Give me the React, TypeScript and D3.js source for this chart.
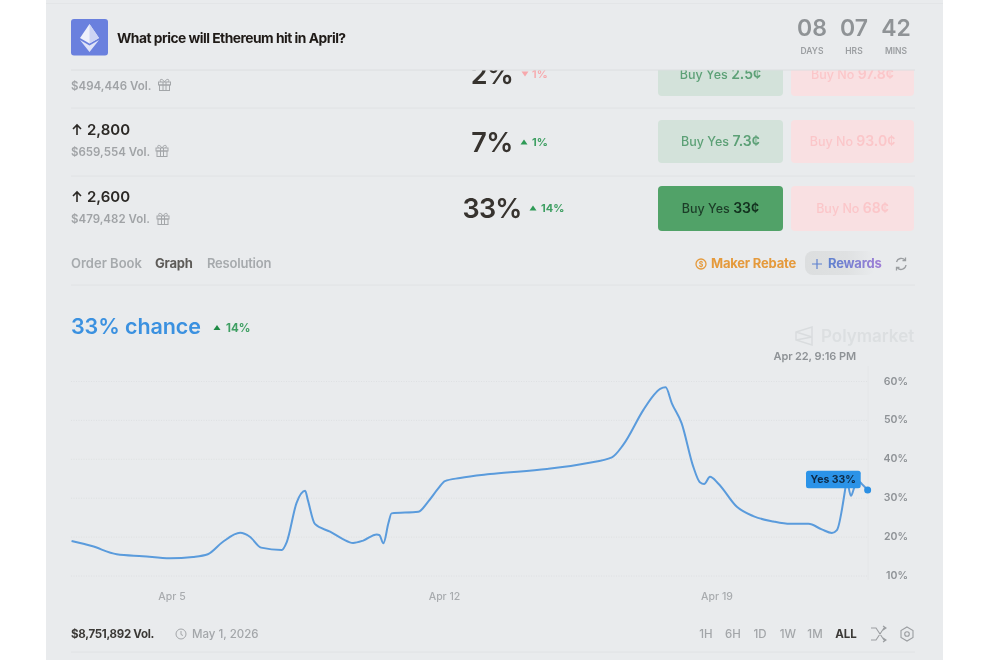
import React from "react";
import * as d3 from "d3";

// Chart data: day of April, % chance
const days = [2.42,2.94,3.58,4.25,4.95,5.54,5.92,6.31,6.75,7.0,7.29,7.82,7.95,8.2,8.42,8.49,8.67,9.06,9.39,9.65,9.91,10.26,10.33,10.43,10.56,10.64,11.33,11.58,11.84,12.01,12.4,13.17,14.63,15.65,16.3,16.59,17.11,17.36,17.54,17.68,17.84,18.09,18.39,18.56,18.67,18.82,19.03,19.51,19.93,20.45,20.88,21.35,21.69,21.95,22.08,22.29,22.33,22.44,22.52,22.59,22.72,22.87];
const chance = [19.0,17.7,15.6,15.1,14.55,14.9,15.6,18.8,21.1,20.1,17.3,16.7,18.8,28.8,31.9,29.5,23.4,21.4,19.5,18.5,19.1,20.7,20.5,18.4,23.6,26.1,26.5,29.1,32.5,34.4,35.2,36.2,37.5,39,40.5,43.7,52.7,56.3,58.1,58.5,54.4,49.3,38.1,34.1,33.65,35.5,33.8,27.8,25.4,24,23.4,23.4,22,21.06,21.8,32.1,34.7,30.6,32.6,34.7,33.65,32.1];
const yTicks = [10,20,30,40,50,60];
const xTickDays = [5,12,19];
const xTickLabels = ["Apr 5","Apr 12","Apr 19"];
const timeframes = ["1H","6H","1D","1W","1M","ALL"];
const timeframeX = [706,733,760,788,815,846];
const FONT = "Inter, 'Noto Sans', sans-serif";

const x = d3.scaleLinear().domain([5,19]).range([172,717]);
const y = d3.scaleLinear().domain([10,60]).range([576,381.5]);
const path = d3.line<number>().x((_,i)=>x(days[i])).y(d=>y(d)).curve(d3.curveMonotoneX)(chance) as string;

const Gift = ({cx,cy,c="#a3a6a9"}:{cx:number;cy:number;c?:string}) => (
  <g transform={`translate(${cx},${cy})`} fill="none" stroke={c} strokeWidth={1}>
    <rect x={-6} y={-3} width={12} height={3} />
    <rect x={-5} y={0} width={10} height={5.5} />
    <path d="M-1.5,-3V5.5M1.5,-3V5.5M0,-3C-2,-7 -6,-6 -3.5,-3M0,-3C2,-7 6,-6 3.5,-3" />
  </g>
);
const Arrow = ({xx,yy}:{xx:number;yy:number}) => (
  <path transform={`translate(${xx},${yy})`} d="M0,5V-5M-4,-1L0,-5L4,-1" fill="none" stroke="#2b2825" strokeWidth={1.6} />
);
const Tri = ({xx,yy,c,down=false}:{xx:number;yy:number;c:string;down?:boolean}) => (
  <path transform={`translate(${xx},${yy})`} d={down?"M-3.5,-2.5H3.5L0,2.5Z":"M-3.5,2.5H3.5L0,-2.5Z"} fill={c} />
);
const Btn = ({x0,w,y0,h,fill,label,price,color,color2,fs=12.5}:{x0:number;w:number;y0:number;h:number;fill:string;label:string;price:string;color:string;color2:string;fs?:number}) => (
  <g>
    <rect x={x0} y={y0} width={w} height={h} rx={4} fill={fill} />
    <text x={x0+w/2} y={y0+h/2+4.5} textAnchor="middle" fontSize={fs} fontWeight={500} fill={color}>
      {label} <tspan fill={color2} fontSize={fs+1.5} fontWeight={600}>{price}</tspan>
    </text>
  </g>
);

export default function App() {
  return (
    <svg width={990} height={660} viewBox="0 0 990 660" fontFamily={FONT}
      style={{position:"fixed",left:0,top:0,filter:"blur(0.45px)"}}>
      <defs>
        <clipPath id="rows"><rect x={46} y={70} width={897} height={590} /></clipPath>
        <linearGradient id="pill" x1="0" x2="1" y1="0" y2="0">
          <stop offset="0" stopColor="#dcdedf" /><stop offset="0.6" stopColor="#dfe1e2" /><stop offset="1" stopColor="#e9ebed" />
        </linearGradient>
        <linearGradient id="rew" gradientUnits="userSpaceOnUse" x1={828} x2={881} y1={0} y2={0}>
          <stop offset="0" stopColor="#5f82cf" /><stop offset="1" stopColor="#a07fd6" />
        </linearGradient>
      </defs>
      <rect width={990} height={660} fill="#fff" />
      <rect x={46} y={0} width={897} height={660} fill="#e9ebed" />
      <line x1={46} x2={943} y1={3.5} y2={3.5} stroke="#e3e5e7" />

      {/* rows, clipped under the header */}
      <g clipPath="url(#rows)">
        <text x={492} y={84} textAnchor="middle" fontSize={27} fontWeight={600} letterSpacing={-0.6} fill="#37332f">2%</text>
        <Tri xx={525} yy={74} c="#f7a8ac" down />
        <text x={532} y={78} fontSize={11} fontWeight={600} fill="#f7a8ac">1%</text>
        <Btn x0={658} w={125} y0={53} h={43} fill="#d3e2da" label="Buy Yes" price="2.5¢" color="#5ca076" color2="#5ca076" />
        <Btn x0={791} w={123} y0={53} h={43} fill="#f9e0e2" label="Buy No" price="97.8¢" color="#fbc6c9" color2="#fbc6c9" />
        <text x={71} y={89.5} fontSize={11.5} fontWeight={600} fill="#a0a3a6">$494,446 Vol.</text>
        <Gift cx={164.5} cy={85} />
      </g>

      {/* header */}
      <rect x={71} y={19} width={37} height={36.5} rx={3} fill="#6a80de" />
      <path d="M89.5,24L99,38L89.5,43.5L80,38Z" fill="#eef0fb" />
      <path d="M89.5,24L99,38L89.5,43.5Z" fill="#cdd4f4" />
      <path d="M80,40L89.5,45.5L99,40L89.5,52Z" fill="#dfe3f8" />
      <text x={117} y={43} fontSize={13.8} fontWeight={700} letterSpacing={-0.5} fill="#1f1a17">What price will Ethereum hit in April?</text>
      {[["08","DAYS",812],["07","HRS",854],["42","MINS",896]].map(([a,b,cx])=>(
        <g key={b as string}>
          <text x={cx as number} y={35.5} textAnchor="middle" fontSize={23} fontWeight={600} fill="#8f9396">{a}</text>
          <text x={cx as number} y={54} textAnchor="middle" fontSize={8.5} fontWeight={600} fill="#9b9ea1">{b}</text>
        </g>
      ))}
      <line x1={71} x2={915} y1={70} y2={70} stroke="#dcdee0" />
      <line x1={71} x2={915} y1={108} y2={108} stroke="#e0e2e4" />
      <line x1={71} x2={915} y1={176} y2={176} stroke="#e0e2e4" />
      <line x1={71} x2={915} y1={285} y2={285} stroke="#e0e2e4" />

      {/* row 2 */}
      <Arrow xx={77} yy={130} />
      <text x={87} y={135} fontSize={15} fontWeight={600} fill="#2b2825">2,800</text>
      <text x={71} y={155.5} fontSize={11.5} fontWeight={600} fill="#a0a3a6">$659,554 Vol.</text>
      <Gift cx={162} cy={151} />
      <text x={492} y={151.5} textAnchor="middle" fontSize={27} fontWeight={600} letterSpacing={-0.6} fill="#37332f">7%</text>
      <Tri xx={524} yy={142} c="#2e9a56" />
      <text x={532} y={146} fontSize={11} fontWeight={700} fill="#3f9f63">1%</text>
      <Btn x0={658} w={125} y0={120} h={43} fill="#d3e2da" label="Buy Yes" price="7.3¢" color="#5ca076" color2="#5ca076" />
      <Btn x0={791} w={123} y0={120} h={43} fill="#f9e0e2" label="Buy No" price="93.0¢" color="#fbc6c9" color2="#fbc6c9" />

      {/* row 3 */}
      <Arrow xx={77} yy={197} />
      <text x={87} y={202} fontSize={15} fontWeight={600} fill="#2b2825">2,600</text>
      <text x={71} y={222.5} fontSize={11.5} fontWeight={600} fill="#a0a3a6">$479,482 Vol.</text>
      <Gift cx={163} cy={219} />
      <text x={492} y={217.5} textAnchor="middle" fontSize={27} fontWeight={600} letterSpacing={-0.9} fill="#37332f">33%</text>
      <Tri xx={533} yy={208} c="#2e9a56" />
      <text x={541} y={212} fontSize={11} fontWeight={700} fill="#3f9f63">14%</text>
      <Btn x0={658} w={125} y0={186} h={45} fill="#51a268" label="Buy Yes" price="33¢" color="#1c3d28" color2="#12301e" />
      <Btn x0={791} w={123} y0={186} h={45} fill="#f9e0e2" label="Buy No" price="68¢" color="#fbc6c9" color2="#fbc6c9" />

      {/* tabs */}
      <text x={71} y={268} fontSize={13} fontWeight={600} fill="#a6aaad">Order Book</text>
      <text x={155} y={268} fontSize={13} fontWeight={700} letterSpacing={-0.2} fill="#5d5b58">Graph</text>
      <text x={207} y={268} fontSize={13} fontWeight={600} letterSpacing={-0.2} fill="#a6aaad">Resolution</text>
      <circle cx={701} cy={264} r={5} fill="none" stroke="#e59a3c" strokeWidth={1.3} />
      <text x={701} y={267} textAnchor="middle" fontSize={7} fontWeight={700} fill="#e59a3c">$</text>
      <text x={711} y={268} fontSize={13} fontWeight={700} letterSpacing={-0.2} fill="#e59a3c">Maker Rebate</text>
      <rect x={805} y={251} width={70} height={24} rx={8} fill="url(#pill)" />
      <path d="M817,259V269M812,264H822" stroke="#5f82cf" strokeWidth={1.2} />
      <text x={828} y={268} fontSize={13} fontWeight={700} letterSpacing={-0.2} fill="url(#rew)">Rewards</text>
      <g fill="none" stroke="#9b9ea1" strokeWidth={1.3}>
        <path d="M896.5,262A5,5 0 0 1 905,260M906,265A5,5 0 0 1 897.5,268" />
        <path d="M905.5,257.5V260.5H902.5M896.5,270.5V267.5H899.5" />
      </g>

      {/* chance */}
      <text x={71} y={334} fontSize={21.5} fontWeight={600} letterSpacing={-0.1} fill="#3b91e0">33% chance</text>
      <Tri xx={217} yy={327.5} c="#1f8a45" />
      <text x={226} y={332} fontSize={11.5} fontWeight={700} fill="#3f9f63">14%</text>

      {/* watermark */}
      <g fill="none" stroke="#d9dcde" strokeWidth={1.5}>
        <path d="M812,327V345L796,340V332Z M796,332L812,337L796,340" />
      </g>
      <text x={821} y={342} fontSize={17} fontWeight={600} fill="#dcdfe1">Polymarket</text>
      <text x={856} y={360} textAnchor="end" fontSize={11} fontWeight={600} letterSpacing={-0.1} fill="#8e9296">Apr 22, 9:16 PM</text>

      {/* grid + axes */}
      {yTicks.map(t=>(
        <g key={t}>
          <line x1={71} x2={868} y1={y(t)} y2={y(t)} stroke="#dadcde" strokeDasharray="1 1.5" strokeOpacity={0.75} />
          <text x={908} y={y(t)+3} textAnchor="end" fontSize={10.5} fontWeight={600} fill="#8e9296">{t}%</text>
        </g>
      ))}
      <line x1={868} x2={868} y1={366} y2={580} stroke="#e4e6e8" />
      {xTickDays.map((d,i)=>(
        <text key={d} x={x(d)} y={600} textAnchor="middle" fontSize={10.5} fontWeight={500} fill="#a8abae">{xTickLabels[i]}</text>
      ))}

      {/* series */}
      <path d={path} fill="none" stroke="#5a9bdc" strokeWidth={2} strokeLinejoin="round" />
      <circle cx={x(days[days.length-1])} cy={y(chance[chance.length-1])} r={3.5} fill="#2b8fe3" />
      <rect x={806} y={470.7} width={54.7} height={17.6} rx={2.5} fill="#2b93e8" />
      <text x={833.3} y={483.3} textAnchor="middle" fontSize={10.5} fontWeight={700} fill="#0e2a45">Yes 33%</text>

      {/* footer */}
      <text x={71} y={638} fontSize={11.5} fontWeight={700} letterSpacing={-0.3} fill="#3b3936">$8,751,892 Vol.</text>
      <circle cx={181} cy={634} r={5} fill="none" stroke="#a3a6a9" />
      <path d="M181,631V634.5L183,635.5" fill="none" stroke="#a3a6a9" />
      <text x={192} y={638} fontSize={11.5} fontWeight={500} fill="#a3a6a9">May 1, 2026</text>
      {timeframes.map((t,i)=>(
        <text key={t} x={timeframeX[i]} y={638} textAnchor="middle" fontSize={11.5} fontWeight={t==="ALL"?700:500} fill={t==="ALL"?"#3b3936":"#a3a6a9"}>{t}</text>
      ))}
      <g fill="none" stroke="#9b9ea1" strokeWidth={1.1}>
        <path d="M871,628L876,628L884,640H886M871,640H876L884,628H886M883,626L886,628L883,630M883,638L886,640L883,642" />
        <path d="M907,627L913,630.5V637.5L907,641L901,637.5V630.5Z" />
        <circle cx={907} cy={634} r={2.3} />
      </g>
      <line x1={71} x2={915} y1={652} y2={652} stroke="#e0e2e4" />
    </svg>
  );
}
